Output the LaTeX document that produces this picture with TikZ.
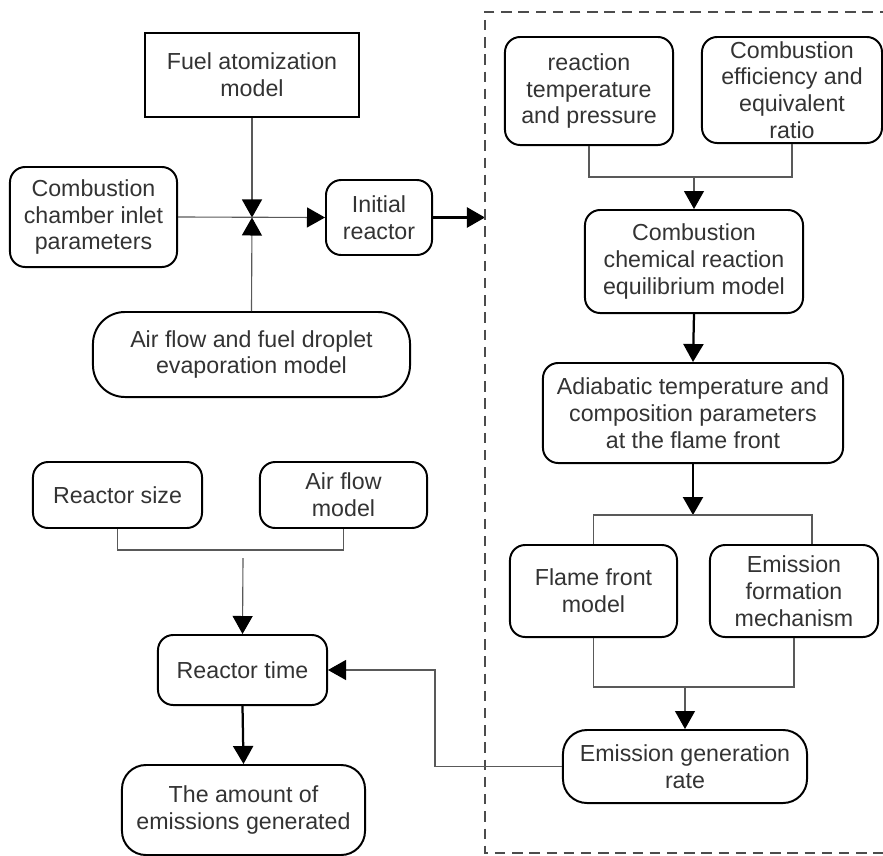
\documentclass[tikz,border=0pt]{standalone}
\usepackage{fontspec}
\setmainfont{Liberation Sans}
\usetikzlibrary{arrows.meta}

\begin{document}
\begin{tikzpicture}[x=0.025cm, y=-0.025cm,
    font=\fontsize{16.5}{19}\selectfont,
    box/.style={draw=black, line width=1.4pt, rounded corners=0.38cm, align=center, text=black!80, inner sep=0pt},
    sqbox/.style={box, rounded corners=0pt},
    link/.style={draw=black!65, line width=0.8pt},
    flow/.style={link, -{Triangle[length=0.45cm, width=0.5cm, color=black]}},
    bigflow/.style={draw=black, line width=1.6pt, -{Triangle[length=0.45cm, width=0.5cm]}},
    frame/.style={draw=black!70, line width=1.4pt, dash pattern=on 0.26cm off 0.17cm}]
    \useasboundingbox (0,0) rectangle (883,856);
    % Fuel side: inputs to the initial reactor
    \node[sqbox, minimum width=5.325cm, minimum height=2.1cm] (fuel) at (252,75) {Fuel atomization\\model};
    \node[box, minimum width=4.175cm, minimum height=2.5cm] (inlet) at (93.5,217) {Combustion\\chamber inlet\\parameters};
    \node[box, minimum width=2.65cm, minimum height=1.875cm] (initial) at (379,217.5) {Initial\\reactor};
    \node[box, rounded corners=0.8cm, minimum width=7.925cm, minimum height=2.125cm] (droplet) at (251.5,354.5) {Air flow and fuel droplet\\evaporation model};
    \coordinate (mix) at (252,217.5);
    \draw[flow] (fuel.south) -- (mix);
    \draw[flow] (droplet.north) -- (mix);
    \draw[flow] (inlet.east) -- (initial.west);
    \coordinate (frameIn) at (485,217.5);
    \draw[bigflow] (initial.east) -- (frameIn);
    % Dashed frame (right side runs off the page)
    \draw[frame] (890,12) -- (485,12) -- (485,853) -- (890,853);
    % Equilibrium chain inside the frame
    \node[box, minimum width=4.2cm, minimum height=2.7cm] (temp) at (589,91) {reaction\\temperature\\and pressure};
    \node[box, minimum width=4.5cm, minimum height=2.65cm] (effic) at (792,90) {Combustion\\efficiency and\\equivalent\\ratio};
    \node[box, minimum width=5.45cm, minimum height=2.575cm] (equil) at (694,261.5) {Combustion\\chemical reaction\\equilibrium model};
    \node[box, minimum width=7.5cm, minimum height=2.5cm] (adiab) at (693,413) {Adiabatic temperature and\\composition parameters\\at the flame front};
    \node[box, minimum width=4.175cm, minimum height=2.3cm] (flame) at (593.5,591) {Flame front\\model};
    \node[box, minimum width=4.2cm, minimum height=2.3cm] (mech) at (794,591) {Emission\\formation\\mechanism};
    \node[box, rounded corners=0.6cm, minimum width=6.1cm, minimum height=1.825cm] (rate) at (685,766.5) {Emission generation\\rate};
    \coordinate (joinA) at (694,177);
    \draw[link] (temp.south) |- (joinA) -| (effic.south);
    \draw[flow] (joinA) -- (equil.north);
    \draw[bigflow] (equil.south) -- (adiab.north);
    \coordinate (joinB) at (693,515);
    \draw[bigflow] (adiab.south) -- (joinB);
    \draw[link] (flame.north) |- (joinB) -| ([xshift=0.45cm]mech.north);
    \coordinate (joinC) at (685,687);
    \draw[link] (flame.south) |- (joinC) -| (mech.south);
    \draw[flow] (joinC) -- (rate.north);
    % Reactor time branch
    \node[box, minimum width=4.225cm, minimum height=1.65cm] (size) at (117.5,495) {Reactor size};
    \node[box, minimum width=4.175cm, minimum height=1.65cm] (airflow) at (343.5,495) {Air flow\\model};
    \node[box, minimum width=4.225cm, minimum height=1.75cm] (time) at (242.5,670) {Reactor time};
    \node[box, rounded corners=0.6cm, minimum width=6.075cm, minimum height=2.25cm] (amount) at (243.5,810) {The amount of\\emissions generated};
    \coordinate (joinD) at (243,550);
    \coordinate (timeIn) at (243,558);
    \draw[link] (size.south) |- (joinD) -| (airflow.south);
    \draw[flow] (timeIn) -- (time.north);
    \draw[bigflow] (time.south) -- (amount.north);
    \coordinate (back) at (435,766.5);
    \draw[flow] (rate.west) -- (back) |- (time.east);
\end{tikzpicture}
\end{document}
